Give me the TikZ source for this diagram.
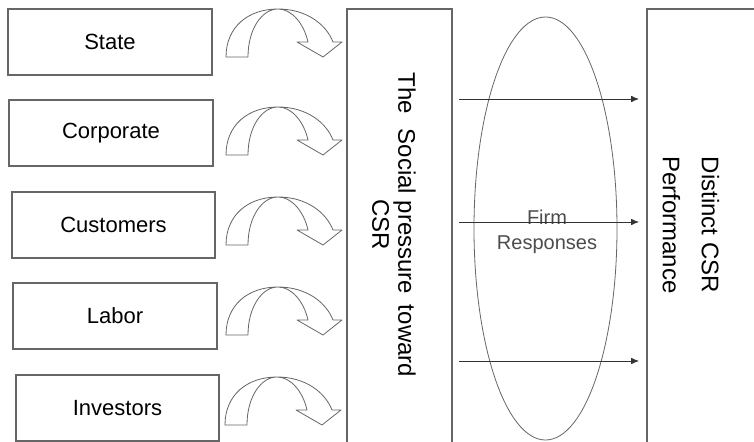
\documentclass[tikz,border=0pt]{standalone}
\usepackage{fontspec}
\setmainfont{Liberation Sans}
\usetikzlibrary{shapes.geometric,arrows.meta}
\tikzset{
  srcbox/.style={draw=black!60, line width=0.9pt, rectangle, inner sep=0pt,
    minimum width=153pt, minimum height=49.5pt, font=\fontsize{16.5}{19}\selectfont},
  tallbox/.style={draw=black!60, line width=0.9pt, rectangle, inner sep=0pt,
    minimum height=330.75pt},
  vtext/.style={rotate=-90, align=center, inner sep=0pt, font=\fontsize{18}{19.5}\selectfont},
  flow/.style={draw=black!80, line width=0.6pt, -{Latex[length=6pt,width=5pt]}},
  bentarrow/.pic={
    \draw[draw=black!60, fill=white, line width=0.6pt, line join=round]
      (0,48) .. controls (0,18) and (22,0) .. (52,0)
             .. controls (80,0) and (100,15) .. (107,33)
      -- (116,33) -- (97,48) -- (71,33) -- (82,33)
             .. controls (78,15) and (66,0) .. (52,0)
             .. controls (36,0) and (22,20) .. (22,48) -- cycle;
  }
}
\begin{document}
\begin{tikzpicture}[x=0.75pt, y=-0.75pt]
\useasboundingbox (0,0) rectangle (754,442);
\fill[white] (0,0) rectangle (754,442);

% source boxes
\node[srcbox, minimum width=153pt] (state) at (110,42) {State};
\node[srcbox, minimum width=153pt] (corp) at (111,133) {Corporate};
\node[srcbox, minimum width=152.25pt] (cust) at (113.5,225) {Customers};
\node[srcbox, minimum width=153pt] (labor) at (115,316) {Labor};
\node[srcbox, minimum width=152.25pt] (inv) at (117.5,408) {Investors};

% curved arrows
\pic at (226,9) {bentarrow};
\pic at (226,107) {bentarrow};
\pic at (226,197) {bentarrow};
\pic at (226,287) {bentarrow};
\pic at (225,377) {bentarrow};

% middle tall box
\node[tallbox, minimum width=78.75pt] (press) at (399.5,229.5) {};
\node[vtext] (presstext) at (394,225) {The\hspace{6pt} Social pressure\hspace{3pt} toward\\CSR};

% ellipse
\node[draw=black!60, line width=0.6pt, ellipse, inner sep=0pt,
      minimum width=107.25pt, minimum height=317.25pt] (resp) at (545.5,228.5) {};
\node[align=center, inner sep=0pt, text=black!70, font=\fontsize{15}{18.75}\selectfont] (firm) at (547,232) {Firm\\Responses};

% right box
\node[tallbox, minimum width=84.75pt] (perf) at (703.5,229.5) {};
\node[vtext, font=\fontsize{18}{29.25}\selectfont] (perftext) at (691,225) {Distinct CSR\\Performance};

% horizontal arrows
\coordinate (a1) at (459,99);  \coordinate (b1) at (639,99);
\coordinate (a2) at (459,222); \coordinate (b2) at (639,222);
\coordinate (a3) at (459,361); \coordinate (b3) at (639,361);
\draw[flow] (a1) -- (b1);
\draw[flow] (a2) -- (b2);
\draw[flow] (a3) -- (b3);
\end{tikzpicture}
\end{document}
